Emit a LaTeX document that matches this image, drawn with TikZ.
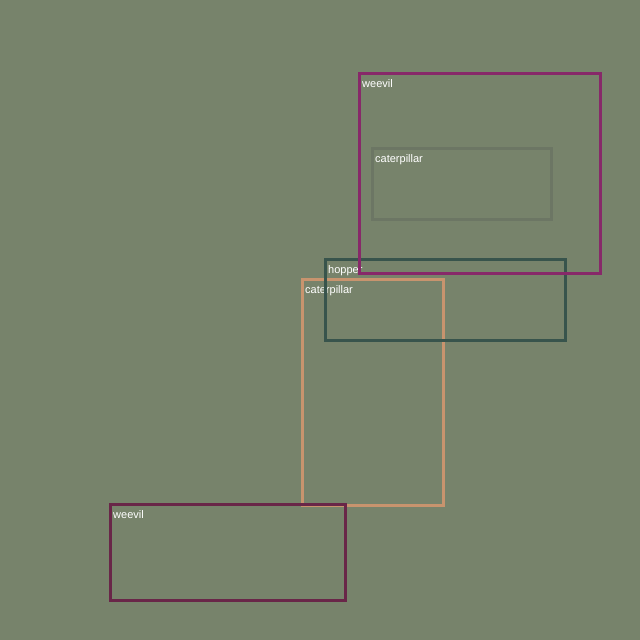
\documentclass[tikz,border=0pt]{standalone}
\usepackage{fontspec}
\setmainfont{Liberation Sans}
\definecolor{bgcol}{RGB}{119,131,107}
\definecolor{weevilA}{RGB}{135,40,105}
\definecolor{weevilB}{RGB}{105,38,72}
\definecolor{hopcol}{RGB}{56,84,76}
\definecolor{catA}{RGB}{108,118,100}
\definecolor{catB}{RGB}{200,148,110}
\tikzset{
  boxline/.style={line width=3pt},
  tag/.style={anchor=north west,inner sep=0pt,text=white,font=\fontsize{11}{13}\selectfont}
}
\begin{document}
\begin{tikzpicture}[x=1pt,y=-1pt]
\fill[bgcol] (0,0) rectangle (640,640);
\useasboundingbox (0,0) rectangle (640,640);

%\draw [help lines,black!20!white] (0,0) grid[step=40] (640,640);

\foreach \xa/\ya/\xb/\yb/\col/\txt/\nm in {
  372/148/551/219/catA/caterpillar/c1,
  302/279/443/505/catB/caterpillar/c2,
  325/259/565/340/hopcol/hopper/h1,
  359/73/600/273/weevilA/weevil/w1,
  110/504/345/600/weevilB/weevil/w2}
{
	\draw[boxline,\col] (\xa,\ya) rectangle (\xb,\yb);
	\node[tag] (\nm) at (\xa+3,\ya+6) {\txt};
}

\end{tikzpicture}
\end{document}
